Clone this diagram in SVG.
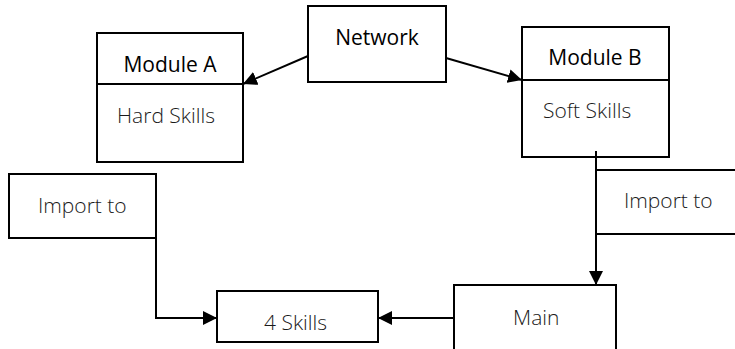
<svg xmlns="http://www.w3.org/2000/svg" width="735" height="349" viewBox="0 0 735 349">
<style>
.box{fill:#fff;stroke:#000;stroke-width:2}
.ln{fill:none;stroke:#000;stroke-width:2}
.t{font-family:"Open Sans","Noto Sans",sans-serif;font-size:21px;font-weight:300;fill:#1a1a1a}
.b{font-weight:500;fill:#000}
</style>
<defs>
<marker id="ah" markerUnits="userSpaceOnUse" markerWidth="15" markerHeight="15" refX="14" refY="7" orient="auto">
<path d="M0,0 L14,7 L0,14 Z" fill="#000"/>
</marker>
</defs>
<rect width="735" height="349" fill="#fff"/>
<g id="network">
<rect class="box" x="308" y="6" width="138" height="76"/>
<text class="t b" x="377" y="45" text-anchor="middle">Network</text>
</g>
<g id="moduleA">
<rect class="box" x="97" y="33" width="146" height="129"/>
<line class="ln" x1="97" y1="84" x2="243" y2="84"/>
<text class="t b" x="170" y="72" text-anchor="middle">Module A</text>
<text class="t" x="117" y="123">Hard Skills</text>
</g>
<g id="moduleB">
<rect class="box" x="522" y="27" width="147" height="130"/>
<line class="ln" x1="522" y1="80" x2="669" y2="80"/>
<text class="t b" x="595" y="65" text-anchor="middle">Module B</text>
<text class="t" x="543" y="118">Soft Skills</text>
</g>
<g id="importRight">
<rect class="box" x="596" y="170" width="160" height="64"/>
<text class="t" x="624" y="208">Import to</text>
</g>
<g id="importLeft">
<rect class="box" x="9" y="174" width="147" height="64"/>
<text class="t" x="38" y="213">Import to</text>
</g>
<g id="fourSkills">
<rect class="box" x="217" y="291" width="161" height="51"/>
<text class="t" x="264" y="330">4 Skills</text>
</g>
<g id="main">
<rect class="box" x="454" y="285" width="162" height="80"/>
<text class="t" x="513" y="325">Main</text>
</g>
<g id="connectors">
<line class="ln" x1="308" y1="56" x2="243" y2="84" marker-end="url(#ah)"/>
<line class="ln" x1="446" y1="58" x2="522" y2="80" marker-end="url(#ah)"/>
<line class="ln" x1="596" y1="151" x2="596" y2="285" marker-end="url(#ah)"/>
<path class="ln" d="M156,238 V318 H217" marker-end="url(#ah)"/>
<line class="ln" x1="454" y1="318" x2="378" y2="318" marker-end="url(#ah)"/>
</g>
</svg>
